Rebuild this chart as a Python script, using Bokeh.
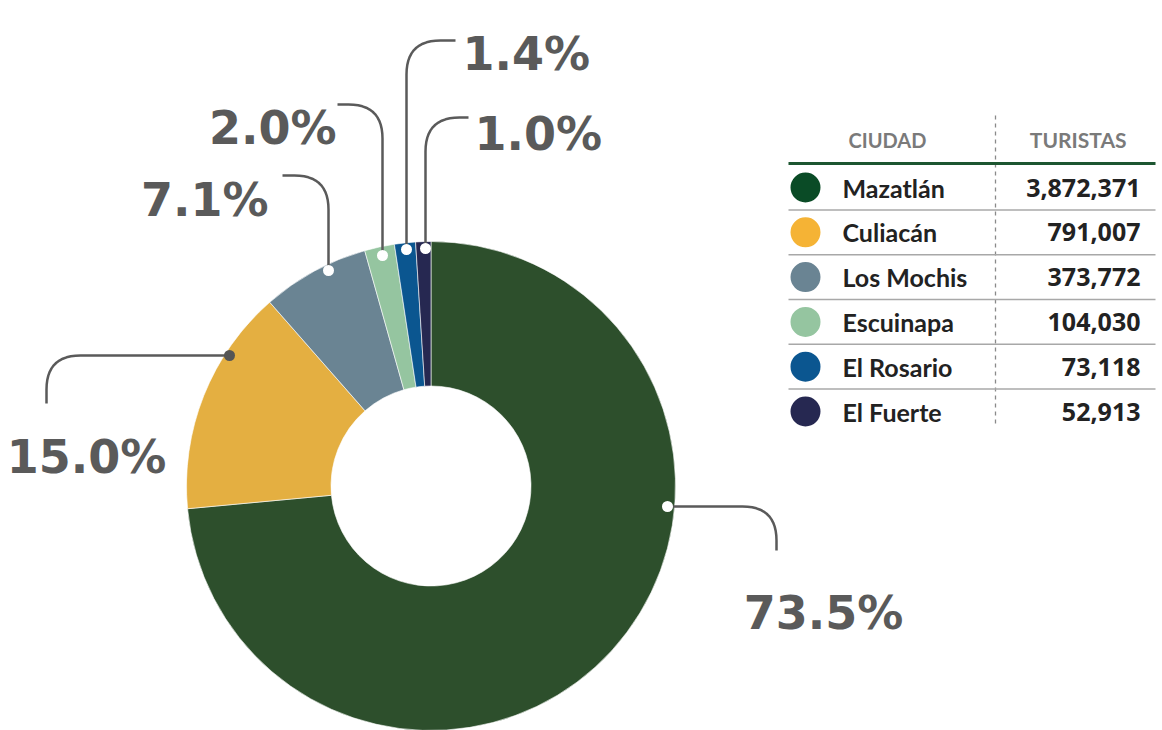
import numpy as np
from bokeh.plotting import figure
from bokeh.models import ColumnDataSource, Range1d
from bokeh.core.properties import value
from bokeh.embed import file_html
from bokeh.resources import INLINE

# ---------------- data ----------------
cities = ["Mazatlán", "Culiacán", "Los Mochis", "Escuinapa", "El Rosario", "El Fuerte"]
tourists = [3872371, 791007, 373772, 104030, 73118, 52913]
slice_colors = ["#2d4f2c", "#e4af41", "#6a8493", "#95c5a0", "#0b5690", "#262851"]
legend_colors = ["#0a4b26", "#f5b335", "#6a8493", "#95c5a0", "#0b5690", "#262851"]
header_labels = ["CIUDAD", "TURISTAS"]

# ---------------- layout ----------------
W, H = 1162, 730


def Y(py):
    return H - py


p = figure(width=W, height=H, x_range=Range1d(0, W), y_range=Range1d(0, H),
           output_backend="svg", toolbar_location=None,
           x_axis_type=None, y_axis_type=None, min_border=0)
p.outline_line_color = None
p.grid.visible = False
p.background_fill_color = "white"

vals = np.array(tourists, dtype=float)
share = vals / vals.sum()
cum = np.concatenate([[0.0], np.cumsum(share)])
start = np.pi / 2 - cum[1:] * 2 * np.pi
end = np.pi / 2 - cum[:-1] * 2 * np.pi
pct = [f"{s * 100:.1f}%" for s in share]

cx, cy = 430.5, Y(485.5)
src = ColumnDataSource(dict(start=start, end=end, color=slice_colors))
p.annular_wedge(x=cx, y=cy, inner_radius=100, outer_radius=244.5,
                start_angle="start", end_angle="end", fill_color="color",
                line_color="white", line_width=0.6, source=src)

# leader lines / labels (pixel layout)
lead = [
    dict(A=(667, 506), B=(776, 506), C=(776, 550), tx=823, ty=612, align="center", dot="white"),
    dict(A=(229, 355), B=(46, 355), C=(46, 403), tx=86, ty=456, align="center", dot="#555555"),
    dict(A=(328, 270), B=(328, 175), C=(282, 175), tx=268, ty=199, align="right", dot="white"),
    dict(A=(382, 255), B=(382, 104), C=(337, 104), tx=336, ty=127, align="right", dot="white"),
    dict(A=(406, 249), B=(406, 40), C=(455, 40), tx=462, ty=53, align="left", dot="white"),
    dict(A=(425, 248), B=(425, 117), C=(468, 117), tx=474, ty=133, align="left", dot="white"),
]


def elbow(A, B, C, r=34, n=14):
    A, B, C = (np.array(v, dtype=float) for v in (A, B, C))
    d1 = (B - A) / np.linalg.norm(B - A)
    d2 = (C - B) / np.linalg.norm(C - B)
    P1 = B - d1 * r
    P2 = B + d2 * r
    t = np.linspace(0, 1, n)[:, None]
    q = (1 - t) ** 2 * P1 + 2 * (1 - t) * t * B + t ** 2 * P2
    pts = np.vstack([A, q, C])
    return list(pts[:, 0]), [Y(v) for v in pts[:, 1]]


xs, ys = [], []
for L in lead:
    x_, y_ = elbow(L["A"], L["B"], L["C"])
    xs.append(x_)
    ys.append(y_)
p.multi_line(xs=xs, ys=ys, line_color="#5a5a5a", line_width=2.5)
p.scatter(x=[L["A"][0] for L in lead], y=[Y(L["A"][1]) for L in lead], size=11,
          fill_color=[L["dot"] for L in lead], line_color=None)

for L, t in zip(lead, pct):
    p.text(x=[L["tx"]], y=[Y(L["ty"])], text=[t], text_font=value("DejaVu Sans"),
           text_font_style="bold", text_font_size="46px", text_color="#5a5a5a",
           text_align=L["align"], text_baseline="alphabetic")

# ---------------- table ----------------
tl, tr = 788, 1155
row0, step = 187, 44.8
rows_y = [Y(row0 + i * step) for i in range(len(cities))]

p.segment(x0=[995], y0=[Y(115)], x1=[995], y1=[Y(424)], line_color="#8a8a8a",
          line_width=1.3, line_dash="4 4")
p.segment(x0=[tl], y0=[Y(163)], x1=[tr], y1=[Y(163)], line_color="#1d5631", line_width=3)
sep_y = [Y(row0 + (i + 0.5) * step) for i in range(len(cities) - 1)]
p.segment(x0=[tl] * len(sep_y), y0=sep_y, x1=[tr] * len(sep_y), y1=sep_y,
          line_color="#a8a8a8", line_width=1.5)

p.text(x=[848], y=[Y(139)], text=[header_labels[0]], text_font=value("Lato"),
       text_font_style="bold", text_font_size="20px", text_color="#7a7a7a",
       text_align="left", text_baseline="middle")
p.text(x=[1126], y=[Y(139)], text=[header_labels[1]], text_font=value("Lato"),
       text_font_style="bold", text_font_size="21px", text_color="#7a7a7a",
       text_align="right", text_baseline="middle")

p.scatter(x=[805] * len(cities), y=rows_y, size=30, fill_color=legend_colors, line_color=None)
p.text(x=[842] * len(cities), y=rows_y, text=cities, text_font=value("Lato"),
       text_font_style="bold", text_font_size="25px", text_color="#222222",
       text_align="left", text_baseline="middle")
p.text(x=[1140] * len(cities), y=rows_y, text=[f"{v:,}" for v in tourists],
       text_font=value("Noto Sans"), text_font_style="bold", text_font_size="25px",
       text_color="#222222", text_align="right", text_baseline="middle")

open("out.html", "w").write(file_html(p, INLINE))
